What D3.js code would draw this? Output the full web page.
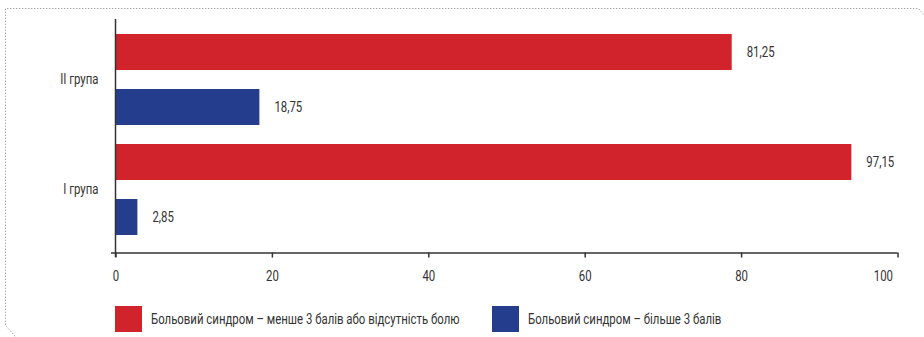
<!DOCTYPE html>
<html>
<head>
<meta charset="utf-8">
<script src="https://cdn.jsdelivr.net/npm/d3@7"></script>
<style>
  body { margin: 0; background: #fff; }
  svg text { font-family: Roboto, "Noto Sans", sans-serif; fill: #333; }
</style>
</head>
<body>
<script>
// groups (top to bottom) and series
var groups = ['II група', 'I група'];
var series = ['Больовий синдром – менше 3 балів або відсутність болю', 'Больовий синдром – більше 3 балів'];
var seriesColors = ['#d1232b', '#243e8d'];
// bar lengths as drawn against the axis, and the printed labels
var barValues = [[78.8, 18.4], [94.1, 2.8]];
var valueLabels = [['81,25', '18,75'], ['97,15', '2,85']];
var xTicks = [0, 20, 40, 60, 80, 100];

//squeeze text horizontally to mimic a condensed face
var squeeze = 0.76;
var fontSize = '15px';
function condense(sel){
    sel.each(function(){
        var t = d3.select(this);
        var x0 = +t.attr('x') || 0;
        t.attr('x', x0 / squeeze)
            .attr('transform', 'scale(' + squeeze + ',1)');
    });
}

function drawChart(){
    var width = 924,
        height = 337;

    var svg = d3.select('body')
        .append('svg')
        .attr('width', width)
        .attr('height', height);

    //dotted frame with cut corners
    svg.append('path')
        .attr('d', 'M923.5,14.5 L918.5,8.5 L5.5,8.5 L5.5,325.5 L15.5,336.5')
        .attr('fill', 'none')
        .attr('stroke', '#9a9a9a')
        .attr('stroke-width', 1)
        .attr('stroke-dasharray', '1.2,1.8');

    var x = d3.scaleLinear()
        .domain([0, 100])
        .range([115.5, 897.5]);

    var y0 = d3.scaleBand()
        .domain(groups)
        .range([24.5, 244.5]);

    var y1 = d3.scaleBand()
        .domain(d3.range(series.length))
        .range([0, y0.bandwidth()])
        .paddingInner(19 / 55)
        .paddingOuter(19 / 110);

    //bars
    var g = svg.selectAll('.group')
        .data(groups)
        .enter()
        .append('g')
        .attr('class', 'group')
        .attr('transform', function(d){ return 'translate(0,' + y0(d) + ')'; });

    var barData = function(d, i){
        return barValues[i].map(function(v, j){ return {v: v, s: j, label: valueLabels[i][j]}; });
    };

    g.selectAll('rect')
        .data(barData)
        .enter()
        .append('rect')
        .attr('x', x(0))
        .attr('y', function(d){ return y1(d.s); })
        .attr('width', function(d){ return x(d.v) - x(0); })
        .attr('height', y1.bandwidth())
        .attr('fill', function(d){ return seriesColors[d.s]; });

    g.selectAll('text.val')
        .data(barData)
        .enter()
        .append('text')
        .attr('class', 'val')
        .attr('x', function(d){ return x(d.v) + 15; })
        .attr('y', function(d){ return y1(d.s) + y1.bandwidth() / 2; })
        .attr('dy', '0.35em')
        .style('font-size', fontSize)
        .text(function(d){ return d.label; })
        .call(condense);

    //x axis
    var xAxis = svg.append('g')
        .attr('transform', 'translate(0,252.5)')
        .call(d3.axisBottom(x).tickValues(xTicks).tickSize(5).tickSizeOuter(0).tickFormat(d3.format('d')));
    xAxis.select('.domain')
        .attr('d', 'M111,0.5 H' + x(100))
        .attr('stroke', '#333')
        .attr('stroke-width', 1.5);
    xAxis.selectAll('.tick line')
        .attr('stroke', '#333')
        .attr('stroke-width', 1.5);
    xAxis.selectAll('.tick text')
        .attr('y', 18)
        .style('font-size', fontSize)
        .style('font-family', null);
    xAxis.selectAll('.tick text')
        .filter(function(d){ return d === 100; })
        .attr('text-anchor', 'end')
        .attr('x', -5);
    xAxis.selectAll('.tick text').call(condense);

    //y axis
    var yAxis = svg.append('g')
        .attr('transform', 'translate(' + x(0) + ',0)')
        .call(d3.axisLeft(y0).tickSize(0).tickPadding(17));
    yAxis.select('.domain')
        .attr('d', 'M0,19 V257')
        .attr('stroke', '#333')
        .attr('stroke-width', 1.5);
    yAxis.selectAll('.tick text')
        .style('font-size', fontSize)
        .style('font-family', null)
        .call(condense);

    //legend
    var legendX = [115, 492];
    var legend = svg.selectAll('.legend')
        .data(series)
        .enter()
        .append('g')
        .attr('class', 'legend')
        .attr('transform', function(d, i){ return 'translate(' + legendX[i] + ',306)'; });
    legend.append('rect')
        .attr('width', 27)
        .attr('height', 26)
        .attr('fill', function(d, i){ return seriesColors[i]; });
    legend.append('text')
        .attr('x', 36)
        .attr('y', 13)
        .attr('dy', '0.35em')
        .style('font-size', fontSize)
        .text(function(d){ return d; })
        .call(condense);
}

window.onload = drawChart();
</script>
</body>
</html>
